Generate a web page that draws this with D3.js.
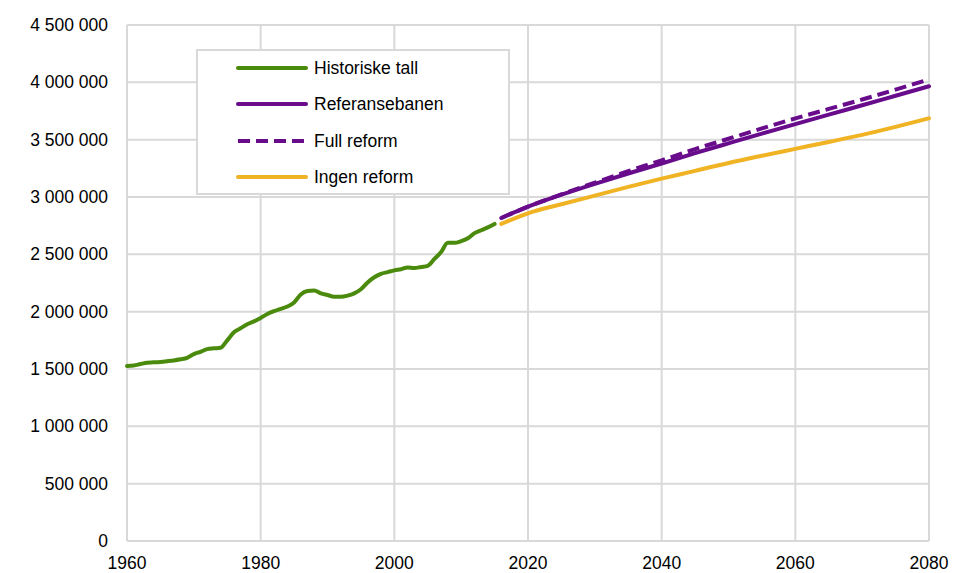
<!DOCTYPE html>
<html><head><meta charset="utf-8">
<script src="https://cdn.jsdelivr.net/npm/d3@7"></script>
<style>body{margin:0;background:#fff;} svg{display:block;font-family:"Liberation Sans",Arial,sans-serif;}</style>
</head><body>
<svg id="c" width="953" height="573"></svg>
<script>
const histYears = d3.range(1960, 2016);
const histValues = [1526000,1530000,1543000,1555000,1558000,1562000,1568000,1575000,1585000,1598000,
 1630000,1650000,1673000,1680000,1685000,1750000,1820000,1855000,1890000,1915000,
 1945000,1980000,2005000,2025000,2045000,2080000,2150000,2180000,2185000,2160000,
 2145000,2130000,2130000,2140000,2160000,2195000,2255000,2300000,2330000,2345000,
 2360000,2370000,2385000,2380000,2390000,2400000,2460000,2520000,2600000,2600000,
 2615000,2640000,2685000,2710000,2735000,2765000];
const projYears = [2016,2020,2025,2030,2035,2040,2045,2050,2055,2060,2065,2070,2075,2080];
const refValues = [2817000,2916000,3020000,3115000,3205000,3292000,3382000,3468000,3553000,3635000,3718000,3800000,3883000,3966000];
const fullValues = [2817000,2916000,3022000,3125000,3225000,3320000,3418000,3508000,3598000,3685000,3768000,3850000,3937000,4026000];
const ingenValues = [2765000,2858000,2937000,3012000,3088000,3160000,3228000,3297000,3360000,3420000,3480000,3542000,3612000,3686000];
const xTicks = [1960,1980,2000,2020,2040,2060,2080];
const yTicks = d3.range(0, 4500001, 500000);
const seriesNames = ["Historiske tall","Referansebanen","Full reform","Ingen reform"];
const colors = {green:"#4a8a0c", purple:"#680c8c", yellow:"#f0b323"};

const svg = d3.select("#c");
const L=127, R=929, T=25, B=541;
const x = d3.scaleLinear().domain([1960,2080]).range([L,R]);
const y = d3.scaleLinear().domain([0,4500000]).range([B,T]);
const grid="#d9d9d9";

svg.append("g").selectAll("line").data(yTicks).join("line")
  .attr("x1",L).attr("x2",R).attr("y1",d=>y(d)).attr("y2",d=>y(d))
  .attr("stroke",grid).attr("stroke-width",2);
svg.append("g").selectAll("line").data(xTicks).join("line")
  .attr("y1",T).attr("y2",B).attr("x1",d=>x(d)).attr("x2",d=>x(d))
  .attr("stroke",grid).attr("stroke-width",2);

const fmt = d => d3.format(",")(d).replace(/,/g," ");
svg.append("g").selectAll("text").data(yTicks).join("text")
  .attr("x",108).attr("y",d=>y(d)).attr("dy","0.35em").attr("text-anchor","end")
  .attr("font-size",17.5).attr("fill","#000").text(fmt);
svg.append("g").selectAll("text").data(xTicks).join("text")
  .attr("x",d=>x(d)).attr("y",563).attr("dy","0.35em").attr("text-anchor","middle")
  .attr("font-size",17.5).attr("fill","#000").text(d=>d);

const line = d3.line().x(d=>x(d[0])).y(d=>y(d[1])).curve(d3.curveMonotoneX);
function draw(xs, vs, color, dash){
  svg.append("path").datum(xs.map((v,i)=>[v,vs[i]]))
    .attr("d",line).attr("fill","none").attr("stroke",color).attr("stroke-width",4)
    .attr("stroke-linejoin","round").attr("stroke-linecap",dash?"butt":"round")
    .attr("stroke-dasharray",dash||null);
}
draw(histYears, histValues, colors.green);
draw(projYears, ingenValues, colors.yellow);
draw(projYears, refValues, colors.purple);
draw(projYears, fullValues, colors.purple, "12,6");

const lg = svg.append("g");
lg.append("rect").attr("x",197).attr("y",50).attr("width",312).attr("height",144)
  .attr("fill","#fff").attr("stroke",grid).attr("stroke-width",2);
const legItems = [
  {name:seriesNames[0], color:colors.green, dash:null},
  {name:seriesNames[1], color:colors.purple, dash:null},
  {name:seriesNames[2], color:colors.purple, dash:"12,6"},
  {name:seriesNames[3], color:colors.yellow, dash:null}];
const rowY = [68,104,141,177];
legItems.forEach((it,i)=>{
  lg.append("line").attr("x1",238).attr("x2",306).attr("y1",rowY[i]).attr("y2",rowY[i])
    .attr("stroke",it.color).attr("stroke-width",4)
    .attr("stroke-linecap",it.dash?"butt":"round").attr("stroke-dasharray",it.dash);
  lg.append("text").attr("x",314).attr("y",rowY[i]).attr("dy","0.35em")
    .attr("font-size",17.5).attr("fill","#000").text(it.name);
});
</script>
</body></html>
